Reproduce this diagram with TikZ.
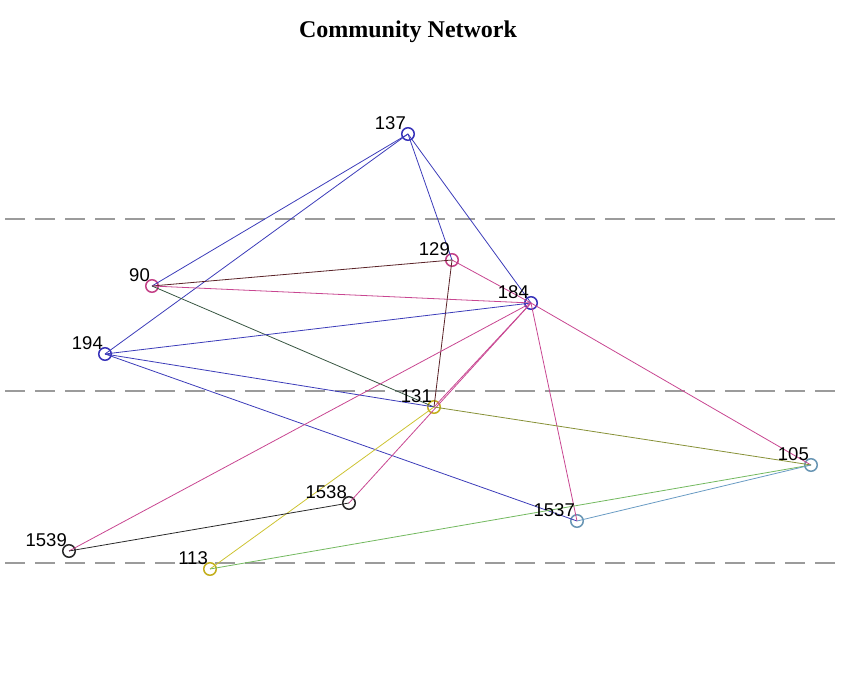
\documentclass[tikz,border=0pt]{standalone}
\usepackage{fontspec}
\setmainfont{Liberation Serif}
\newfontfamily\labfont{Liberation Sans}
\definecolor{nblue}{RGB}{55,50,185}
\definecolor{nmag}{RGB}{195,65,135}
\definecolor{nyel}{RGB}{195,175,30}
\definecolor{nsteel}{RGB}{105,150,180}
\definecolor{nblack}{RGB}{40,40,40}
\definecolor{eblue}{RGB}{60,60,185}
\definecolor{emag}{RGB}{200,70,145}
\definecolor{ebrown}{RGB}{90,35,40}
\definecolor{egreen}{RGB}{55,85,65}
\definecolor{eolive}{RGB}{135,145,55}
\definecolor{eyel}{RGB}{205,195,50}
\definecolor{elgreen}{RGB}{115,185,95}
\definecolor{esteel}{RGB}{105,155,195}
\definecolor{dashgray}{RGB}{155,155,155}
\begin{document}
\begin{tikzpicture}[x=1pt,y=-1pt,
  vert/.style={circle,draw,line width=1.5pt,minimum size=12.5pt,inner sep=0pt,fill=none},
  lab/.style={font=\labfont\fontsize{18.5}{18.5}\selectfont,anchor=base east,inner sep=0pt},
  edge/.style={line width=0.8pt},
  guide/.style={dashgray,line width=1.1pt,dash pattern=on 20pt off 10pt}]
\useasboundingbox (0,0) rectangle (847,692);
\node[font=\bfseries\fontsize{24}{24}\selectfont] (title) at (408,32) {Community Network};
% dashed guides
\coordinate (g1a) at (5,219); \coordinate (g1b) at (843,219);
\coordinate (g2a) at (5,391); \coordinate (g2b) at (843,391);
\coordinate (g3a) at (5,563); \coordinate (g3b) at (843,563);
\draw[guide] (g1a) -- (g1b);
\draw[guide] (g2a) -- (g2b);
\draw[guide] (g3a) -- (g3b);
% edges
\begin{scope}[edge]
\coordinate (c137) at (408,134);
\coordinate (c129) at (452,260);
\coordinate (c90) at (152,286);
\coordinate (c184) at (531,303);
\coordinate (c194) at (105,354);
\coordinate (c131) at (434,407);
\coordinate (c105) at (811,465);
\coordinate (c1538) at (349,503);
\coordinate (c1537) at (577,521);
\coordinate (c1539) at (69,551);
\coordinate (c113) at (210,569);
\end{scope}
% vertices
\node[vert,nblue] (n137) at (c137) {};
\node[vert,nmag] (n129) at (c129) {};
\node[vert,nmag] (n90) at (c90) {};
\node[vert,nblue] (n184) at (c184) {};
\node[vert,nblue] (n194) at (c194) {};
\node[vert,nyel] (n131) at (c131) {};
\node[vert,nsteel] (n105) at (c105) {};
\node[vert,nblack] (n1538) at (c1538) {};
\node[vert,nsteel] (n1537) at (c1537) {};
\node[vert,nblack] (n1539) at (c1539) {};
\node[vert,nyel] (n113) at (c113) {};
\begin{scope}[edge]
\draw[eblue] (n137.center) -- (n90.center);
\draw[eblue] (n137.center) -- (n194.center);
\draw[eblue] (n137.center) -- (n129.center);
\draw[eblue] (n137.center) -- (n184.center);
\draw[ebrown] (n90.center) -- (n129.center);
\draw[emag] (n90.center) -- (n184.center);
\draw[egreen] (n90.center) -- (n131.center);
\draw[emag] (n129.center) -- (n184.center);
\draw[ebrown] (n129.center) -- (n131.center);
\draw[eblue] (n194.center) -- (n184.center);
\draw[eblue] (n194.center) -- (n131.center);
\draw[eblue] (n194.center) -- (n1537.center);
\draw[emag] (n184.center) -- (n1539.center);
\draw[emag] (n184.center) -- (n1538.center);
\draw[emag] (n184.center) -- (n131.center);
\draw[emag] (n184.center) -- (n1537.center);
\draw[emag] (n184.center) -- (n105.center);
\draw[eolive] (n131.center) -- (n105.center);
\draw[eyel] (n113.center) -- (n131.center);
\draw[elgreen] (n113.center) -- (n105.center);
\draw[esteel] (n1537.center) -- (n105.center);
\draw[nblack] (n1538.center) -- (n1539.center);
\end{scope}
% labels
\foreach \n/\t in {137/137,129/129,90/90,184/184,194/194,131/131,105/105,1538/1538,1537/1537,1539/1539,113/113}
  \node[lab] (l\n) at ([xshift=-2pt,yshift=4pt]n\n.center) {\t};
\end{tikzpicture}
\end{document}
